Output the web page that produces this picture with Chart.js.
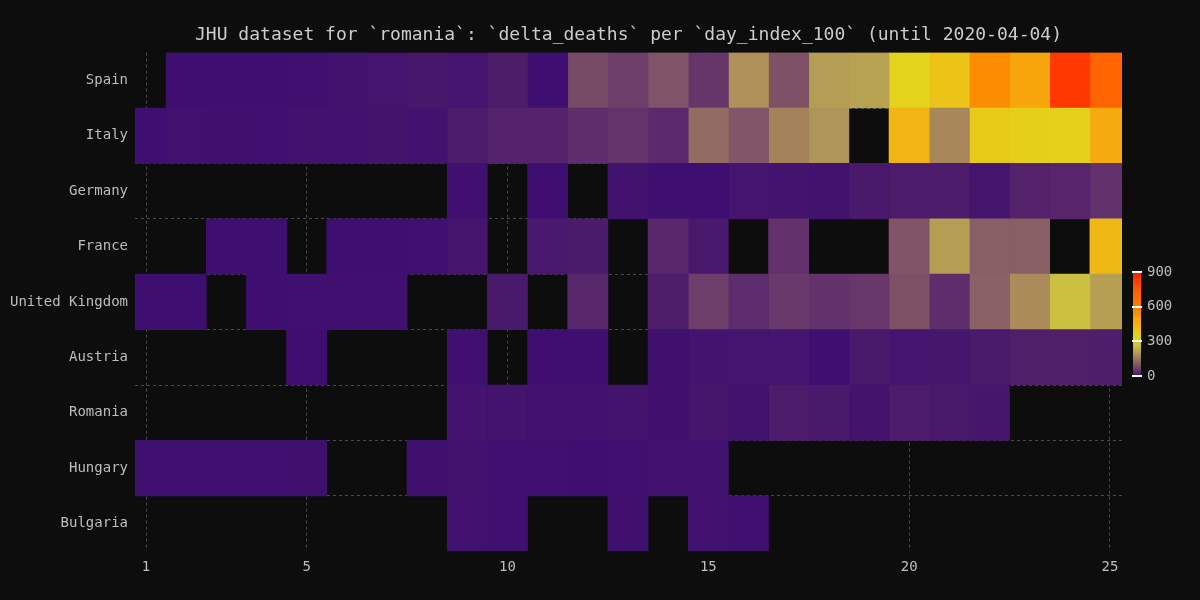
<!DOCTYPE html>
<html>
<head>
<meta charset="utf-8">
<title>delta_deaths heatmap</title>
<script src="https://cdn.jsdelivr.net/npm/chart.js@4.4.1/dist/chart.umd.min.js"></script>
<style>
  html, body { margin: 0; padding: 0; background: #0d0d0d; }
  #wrap { width: 1200px; height: 600px; }
</style>
</head>
<body>
<div id="wrap"><canvas id="chart" width="1200" height="600"></canvas></div>
<script>
// rows (top to bottom) and columns
var countries = ['Spain', 'Italy', 'Germany', 'France', 'United Kingdom', 'Austria', 'Romania', 'Hungary', 'Bulgaria']
var days = [1, 2, 3, 4, 5, 6, 7, 8, 9, 10, 11, 12, 13, 14, 15, 16, 17, 18, 19, 20, 21, 22, 23, 24, 25]
var xTicks = [1, 5, 10, 15, 20, 25]
var colorbarTicks = [0, 300, 600, 900]

// delta_deaths per day_index_100, null = no cell
var spain    = [null, 1, 1, 1, 2, 5, 7, 11, 7, 19, 1, 78, 62, 94, 53, 191, 90, 207, 213, 332, 397, 539, 497, 839, 718]
var italy    = [1, 4, 3, 2, 5, 4, 8, 5, 18, 27, 28, 41, 49, 36, 133, 97, 168, 196, null, 439, 175, 368, 349, 345, 475]
var germany  = [null, null, null, null, null, null, null, null, 2, null, 1, null, 5, 1, 1, 7, 6, 5, 14, 17, 18, 9, 26, 30, 47]
var france   = [null, null, 1, 1, null, 1, 1, 2, 9, null, 12, 16, null, 33, 12, null, 48, null, null, 95, 207, 112, 112, null, 430]
var uk       = [1, 1, null, 1, 2, 2, 2, null, null, 14, null, 33, null, 20, 62, 40, 56, 48, 54, 87, 41, 115, 181, 260, 209]
var austria  = [null, null, null, null, 1, null, null, null, 2, null, 1, 1, null, 3, 6, 7, 7, 1, 14, 7, 10, 15, 22, 22, 20]
var romania  = [null, null, null, null, null, null, null, null, 6, 6, 4, 4, 6, 3, 10, 5, 18, 14, 8, 18, 13, 10, null, null, null]
var hungary  = [2, 2, 2, 2, 3, null, null, 3, 5, 2, 2, 1, 2, 4, 4, null, null, null, null, null, null, null, null, null, null]
var bulgaria = [null, null, null, null, null, null, null, null, 4, 2, null, null, 3, null, 4, 2, null, null, null, null, null, null, null, null, null]

var rows = [spain, italy, germany, france, uk, austria, romania, hungary, bulgaria]

// colour map (value -> rgb)
var cmapStops = [0, 5, 10, 20, 35, 50, 80, 95, 133, 170, 195, 215, 260, 330, 370, 400, 440, 500, 540, 720, 840, 900]
var cmapColors = [
  [61, 14, 112], [66, 18, 111], [70, 22, 108], [78, 30, 106], [90, 40, 108], [100, 52, 108],
  [120, 76, 100], [130, 84, 104], [146, 108, 99], [166, 132, 90], [176, 148, 88], [184, 164, 80],
  [204, 192, 64], [227, 211, 29], [232, 203, 25], [236, 195, 24], [240, 180, 20], [248, 164, 12],
  [252, 140, 0], [255, 100, 0], [255, 56, 0], [255, 24, 0]
]
var cmax = 900

function colorFor(v) {
  if (v <= cmapStops[0]) return 'rgb(' + cmapColors[0].join(',') + ')'
  for (var i = 1; i < cmapStops.length; i++) {
    if (v <= cmapStops[i]) {
      var t = (v - cmapStops[i - 1]) / (cmapStops[i] - cmapStops[i - 1])
      var a = cmapColors[i - 1], b = cmapColors[i]
      return 'rgb(' + [0, 1, 2].map(function (k) { return Math.round(a[k] + (b[k] - a[k]) * t) }).join(',') + ')'
    }
  }
  return 'rgb(' + cmapColors[cmapColors.length - 1].join(',') + ')'
}

var bg = '#0d0d0d'
var gridColor = '#4a4a4a'
var textColor = '#bdbdbd'
var mono = "'DejaVu Sans Mono', 'Liberation Mono', monospace"

// one floating-bar dataset per day column
var datasets = days.map(function (d, di) {
  return {
    label: String(d),
    data: rows.map(function (r) { return r[di] == null ? null : [d - 0.5, d + 0.5] }),
    backgroundColor: rows.map(function (r) { return r[di] == null ? 'transparent' : colorFor(r[di]) }),
    borderWidth: 0,
    grouped: false,
    barPercentage: 1,
    categoryPercentage: 1
  }
})

var backgroundPlugin = {
  id: 'bg',
  beforeDraw: function (chart) {
    var ctx = chart.ctx
    ctx.save()
    ctx.fillStyle = bg
    ctx.fillRect(0, 0, chart.width, chart.height)
    ctx.restore()
  }
}

var colorbarPlugin = {
  id: 'colorbar',
  afterDraw: function (chart) {
    var ctx = chart.ctx
    var x = chart.chartArea.right + 11, w = 8
    var top = 272, bottom = 376
    ctx.save()
    for (var py = top; py < bottom; py++) {
      ctx.fillStyle = colorFor(cmax * (bottom - py - 0.5) / (bottom - top))
      ctx.fillRect(x, py, w, 1)
    }
    ctx.font = '14px ' + mono
    ctx.textBaseline = 'middle'
    ctx.textAlign = 'left'
    colorbarTicks.forEach(function (v) {
      var y = bottom - (bottom - top) * v / cmax
      ctx.fillStyle = '#ffffff'
      ctx.fillRect(x - 1, Math.round(y) - 1, w + 2, 2)
      ctx.fillStyle = textColor
      ctx.fillText(String(v), x + w + 6, y)
    })
    ctx.restore()
  }
}

new Chart(document.getElementById('chart'), {
  type: 'bar',
  data: { labels: countries, datasets: datasets },
  options: {
    responsive: false,
    animation: false,
    indexAxis: 'y',
    layout: { padding: { left: 3, right: 78, top: 0, bottom: 16 } },
    plugins: {
      legend: { display: false },
      tooltip: { enabled: false },
      title: {
        display: true,
        fullSize: false,
        text: 'JHU dataset for `romania`: `delta_deaths` per `day_index_100` (until 2020-04-04)',
        color: '#cccccc',
        font: { family: mono, size: 18, weight: 'normal' },
        padding: { top: 25, bottom: 6 }
      }
    },
    scales: {
      x: {
        type: 'linear',
        min: 0.726,
        max: 25.3,
        afterBuildTicks: function (scale) {
          scale.ticks = xTicks.map(function (v) { return { value: v } })
        },
        grid: { color: gridColor, drawTicks: false, lineWidth: 1 },
        border: { display: false, dash: [3, 3] },
        ticks: { color: textColor, font: { family: mono, size: 14 }, padding: 8, autoSkip: false, maxRotation: 0 }
      },
      y: {
        type: 'category',
        grid: {
          offset: true,
          drawTicks: false,
          lineWidth: 1,
          color: function (c) {
            return (c.type !== 'tick' || c.index === 0) ? 'rgba(0,0,0,0)' : gridColor
          }
        },
        border: { display: false, dash: [3, 3] },
        ticks: { color: textColor, font: { family: mono, size: 14 }, padding: 7 }
      }
    }
  },
  plugins: [backgroundPlugin, colorbarPlugin]
})
</script>
</body>
</html>
